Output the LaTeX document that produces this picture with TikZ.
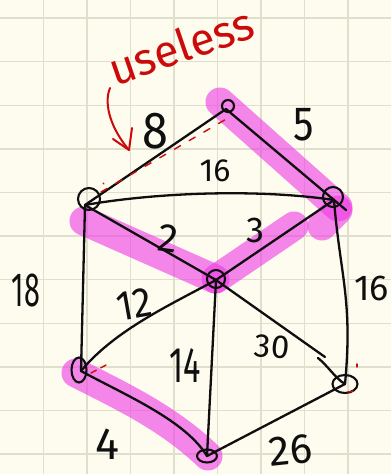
\documentclass[tikz,border=0pt]{standalone}
\usepackage{fontspec}
\usetikzlibrary{shapes.geometric}
\newfontfamily\hand{Fira Sans}
\definecolor{paper}{RGB}{253,252,238}
\definecolor{gridc}{RGB}{224,223,206}
\definecolor{hl}{RGB}{240,60,230}
\definecolor{ink}{RGB}{15,15,15}
\definecolor{redink}{RGB}{205,10,10}
\tikzset{
  gridline/.style={gridc, line width=1.4pt},
  hilite/.style={hl, opacity=0.62, line width=29pt, line cap=round},
  edge/.style={ink, line width=2.3pt, line cap=round},
  vert/.style={draw=ink, line width=2.1pt, circle, inner sep=0pt},
  lbl/.style={ink, font=\hand\fontsize{46}{46}\selectfont, inner sep=0pt},
  redmark/.style={redink, line width=1.4pt, line cap=round},
}
\begin{document}
\begin{tikzpicture}[x=1pt,y=-1pt]
\useasboundingbox (0,0) rectangle (391,474);
\fill[paper] (0,0) rectangle (391,474);
\foreach \k in {1,...,8} \draw[gridline] (43.5*\k,0) -- (43.5*\k,474);
\foreach \k in {0,...,10} \draw[gridline] (0,18+43.6*\k) -- (391,18+43.6*\k);

% vertex positions
\coordinate (A) at (226,109);
\coordinate (B) at (85,205);
\coordinate (C) at (334,200);
\coordinate (D) at (216,280);
\coordinate (E) at (81,371);
\coordinate (F) at (207,456);
\coordinate (G) at (345,384);

% highlights
\draw[hilite] (220,102) -- (338,207);
\draw[hilite] (338,210) -- (322,226);
\draw[hilite] (84,221) -- (215,279);
\draw[hilite] (216,279) -- (294,226);
\draw[hilite] (76,373) .. controls (130,400) and (170,420) .. (208,456);

% edges
\draw[edge] (A) -- (B);
\draw[edge] (A) -- (C);
\draw[edge] (B) .. controls (160,192) and (260,189) .. (C) -- (346,210);
\draw[edge] (B) -- (D);
\draw[edge] (D) -- (C);
\draw[edge] (B) -- (E);
\draw[edge] (C) .. controls (340,275) and (353,300) .. (G);
\draw[edge] (D) .. controls (170,305) and (115,330) .. (E);
\draw[edge] (D) -- (F);
\draw[edge] (D) -- (325,357);
\draw[edge] (318,358) .. controls (328,366) and (335,378) .. (G);
\draw[edge] (E) .. controls (125,395) and (185,420) .. (F);
\draw[edge] (F) -- (G);

% vertices
\node[vert, minimum size=12pt] (nA) at (228,106) {};
\node[vert, minimum size=22pt] (nB) at (89,199) {};
\node[vert, minimum size=20pt] (nC) at (333,197) {};
\node[vert, minimum size=18pt] (nD) at (216,279) {};
\node[vert, ellipse, minimum width=15pt, minimum height=25pt] (nE) at (79,370) {};
\node[vert, ellipse, minimum width=20pt, minimum height=13pt] (nF) at (207,456) {};
\node[vert, ellipse, minimum width=25pt, minimum height=18pt] (nG) at (345,384) {};

% red annotations
\draw[redmark, dash pattern=on 7pt off 10pt] (nB) ++(12,-7) -- (228,118);
\draw[redmark] (103,183) -- (104,184);
\draw[redmark, dash pattern=on 6pt off 5pt] (nE) ++(12,3) -- (108,364);
\draw[redmark] (357,364) -- (357,367);
\draw[redmark] (348,392) -- (353,391);
\node[redink, font=\hand\fontsize{45}{45}\selectfont, rotate=19, inner sep=0pt] (useless) at (181,46) {useless};
\coordinate (arrtop) at (110,88);
\coordinate (arrtip) at (129,150);
\draw[redink, line width=2pt, line cap=round] (arrtop) .. controls (103,105) and (112,130) .. (arrtip);
\draw[redink, line width=2pt, line cap=round, line join=round] (113,139) -- (arrtip) -- (132,128);

% labels
\node[lbl, font=\hand\fontsize{52}{52}\selectfont, xscale=0.9] (l8) at (155,131) {8};
\node[lbl, font=\hand\fontsize{48}{48}\selectfont, xscale=0.85] (l5) at (304,125) {5};
\node[lbl, font=\hand\fontsize{32}{32}\selectfont] (l16a) at (215,171) {16};
\node[lbl, font=\hand\fontsize{40}{40}\selectfont, rotate=-8] (l2) at (168,238) {2};
\node[lbl, font=\hand\fontsize{36}{36}\selectfont] (l3) at (255,230) {3};
\node[lbl, font=\hand\fontsize{48}{48}\selectfont, xscale=0.6] (l18) at (26,290) {18};
\node[lbl, font=\hand\fontsize{42}{42}\selectfont, rotate=10, xscale=0.9] (l12) at (134,304) {12};
\node[lbl, font=\hand\fontsize{36}{36}\selectfont, anchor=west] (l16b) at (354,288) {16};
\node[lbl, font=\hand\fontsize{50}{50}\selectfont, xscale=0.65] (l14) at (185,366) {14};
\node[lbl, font=\hand\fontsize{33}{33}\selectfont, rotate=-5] (l30) at (272,347) {30};
\node[lbl, font=\hand\fontsize{45}{45}\selectfont] (l4) at (107,444) {4};
\node[lbl, font=\hand\fontsize{42}{42}\selectfont, rotate=6] (l26) at (291,450) {26};
\end{tikzpicture}
\end{document}
